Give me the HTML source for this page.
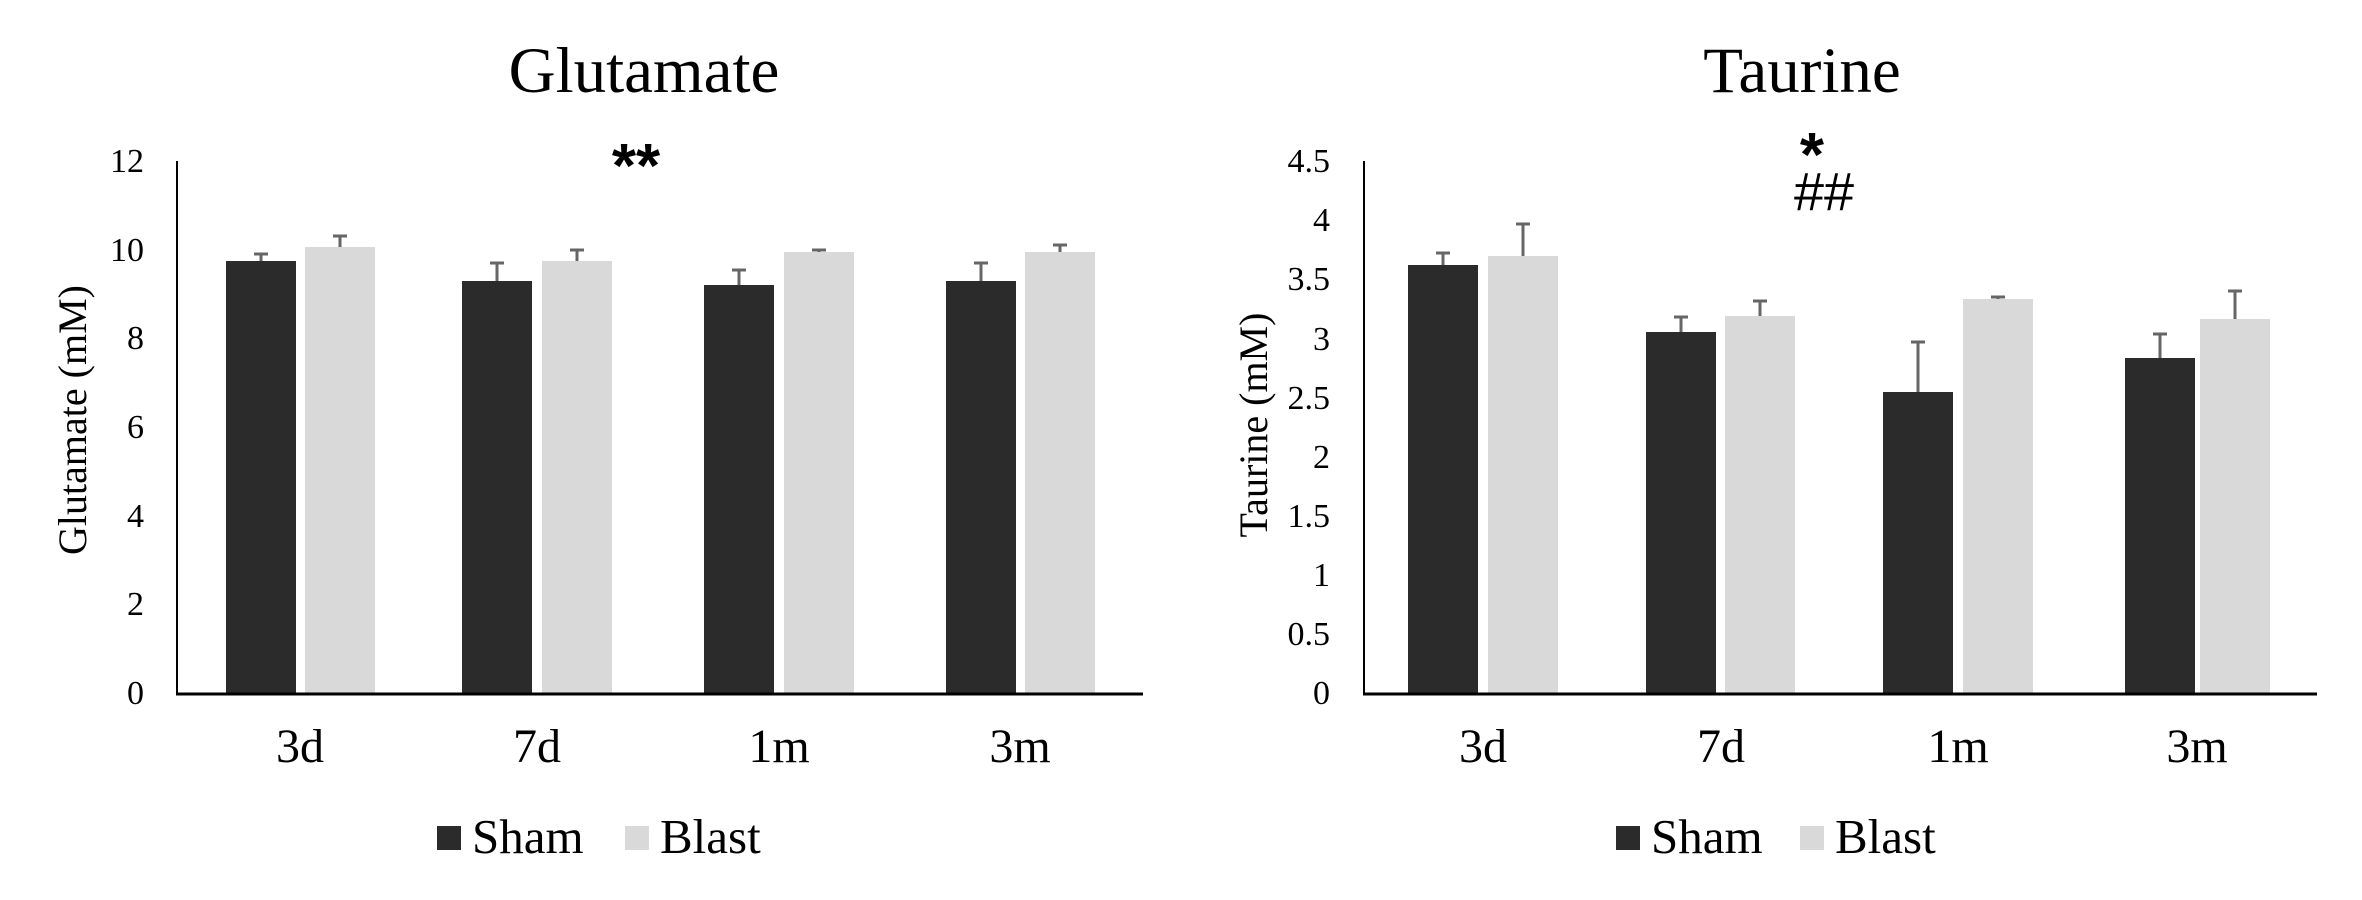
<!DOCTYPE html>
<html><head><meta charset="utf-8"><style>
html,body{margin:0;padding:0;background:#fff;}
svg{display:block;}
text{font-family:"Liberation Serif",serif;fill:#000;}
.s{font-family:"Liberation Sans",sans-serif;}
</style></head><body>
<svg width="2362" height="900" viewBox="0 0 2362 900" xmlns="http://www.w3.org/2000/svg">
<rect width="2362" height="900" fill="#fff"/>
<!-- LEFT CHART -->
<text x="644" y="92" font-size="65" text-anchor="middle">Glutamate</text>
<text class="s" x="636" y="187" font-size="62" font-weight="bold" text-anchor="middle">**</text>
<g font-size="34" text-anchor="end">
<text x="144" y="704">0</text><text x="144" y="615">2</text><text x="144" y="527">4</text>
<text x="144" y="438">6</text><text x="144" y="349">8</text><text x="144" y="261">10</text><text x="144" y="172">12</text>
</g>
<text transform="translate(86,420) rotate(-90)" font-size="40" text-anchor="middle">Glutamate (mM)</text>
<g fill="#2b2b2b">
<rect x="226" y="261" width="70" height="432"/><rect x="462" y="281" width="70" height="412"/>
<rect x="704" y="285" width="70" height="408"/><rect x="946" y="281" width="70" height="412"/>
</g>
<g fill="#d9d9d9">
<rect x="305" y="247" width="70" height="446"/><rect x="542" y="261" width="70" height="432"/>
<rect x="784" y="252" width="70" height="441"/><rect x="1025" y="252" width="70" height="441"/>
</g>
<g stroke="#666" stroke-width="3" fill="none">
<path d="M261 261V254M254 254H268"/><path d="M340 247V236M333 236H347"/>
<path d="M497 281V263M490 263H504"/><path d="M577 261V250M570 250H584"/>
<path d="M739 285V270M732 270H746"/><path d="M819 252V250M812 250H826"/>
<path d="M981 281V263M974 263H988"/><path d="M1060 252V245M1053 245H1067"/>
</g>
<line x1="177" y1="161" x2="177" y2="694" stroke="#000" stroke-width="2"/>
<line x1="176" y1="694" x2="1143" y2="694" stroke="#000" stroke-width="3"/>
<g font-size="48" text-anchor="middle">
<text x="300" y="762">3d</text><text x="537" y="762">7d</text><text x="779" y="762">1m</text><text x="1020" y="762">3m</text>
</g>
<rect x="437" y="826" width="24" height="24" fill="#2b2b2b"/>
<text x="472" y="853" font-size="49">Sham</text>
<rect x="625" y="826" width="24" height="24" fill="#d9d9d9"/>
<text x="660" y="853" font-size="49">Blast</text>

<!-- RIGHT CHART -->
<text x="1802" y="92" font-size="65" text-anchor="middle">Taurine</text>
<text class="s" x="1812" y="176" font-size="62" font-weight="bold" text-anchor="middle">*</text>
<text class="s" x="1824" y="210" font-size="54" text-anchor="middle">##</text>
<g font-size="34" text-anchor="end">
<text x="1330" y="704">0</text><text x="1330" y="645">0.5</text><text x="1330" y="586">1</text>
<text x="1330" y="527">1.5</text><text x="1330" y="468">2</text><text x="1330" y="409">2.5</text>
<text x="1330" y="350">3</text><text x="1330" y="290">3.5</text><text x="1330" y="231">4</text><text x="1330" y="172">4.5</text>
</g>
<text transform="translate(1267,425) rotate(-90)" font-size="40" text-anchor="middle">Taurine (mM)</text>
<g fill="#2b2b2b">
<rect x="1408" y="265" width="70" height="428"/><rect x="1646" y="332" width="70" height="361"/>
<rect x="1883" y="392" width="70" height="301"/><rect x="2125" y="358" width="70" height="335"/>
</g>
<g fill="#d9d9d9">
<rect x="1488" y="256" width="70" height="437"/><rect x="1725" y="316" width="70" height="377"/>
<rect x="1963" y="299" width="70" height="394"/><rect x="2200" y="319" width="70" height="374"/>
</g>
<g stroke="#666" stroke-width="3" fill="none">
<path d="M1443 265V253M1436 253H1450"/><path d="M1523 256V224M1516 224H1530"/>
<path d="M1681 332V317M1674 317H1688"/><path d="M1760 316V301M1753 301H1767"/>
<path d="M1918 392V342M1911 342H1925"/><path d="M1998 299V297M1991 297H2005"/>
<path d="M2160 358V334M2153 334H2167"/><path d="M2235 319V291M2228 291H2242"/>
</g>
<line x1="1364" y1="161" x2="1364" y2="694" stroke="#000" stroke-width="2"/>
<line x1="1363" y1="694" x2="2317" y2="694" stroke="#000" stroke-width="3"/>
<g font-size="48" text-anchor="middle">
<text x="1483" y="762">3d</text><text x="1721" y="762">7d</text><text x="1958" y="762">1m</text><text x="2197" y="762">3m</text>
</g>
<rect x="1616" y="826" width="24" height="24" fill="#2b2b2b"/>
<text x="1651" y="853" font-size="49">Sham</text>
<rect x="1800" y="826" width="24" height="24" fill="#d9d9d9"/>
<text x="1835" y="853" font-size="49">Blast</text>
</svg>
</body></html>
